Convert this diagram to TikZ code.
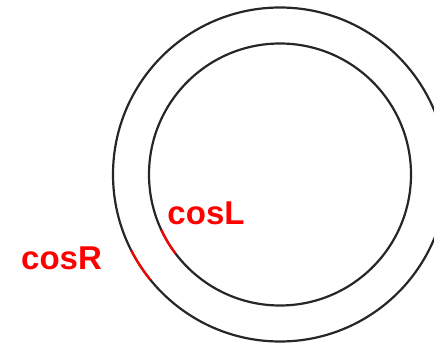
\documentclass[tikz,border=0pt]{standalone}
\usepackage{fontspec}
\setmainfont{Liberation Sans}
\usetikzlibrary{calc}

\begin{document}
\begin{tikzpicture}[x=1pt, y=1pt,
		ring/.style={line width=2.2pt, black!85},
		redarc/.style={line width=2.2pt, red},
		lbl/.style={text=red, font=\fontsize{33}{33}\selectfont\bfseries, inner sep=0pt, anchor=base}]
			
			\useasboundingbox (0,0) rectangle (434,343);
			\clip (0,0) rectangle (434,343);
			
			\coordinate (O) at (280,168.5);
			
			\draw[ring] (O) circle (167);
			\draw[ring] (O) circle (131);
			
			\draw[redarc] ($(O)+(207:167)$) arc[start angle=207, end angle=219, radius=167];
			\draw[redarc] ($(O)+(205:131)$) arc[start angle=205, end angle=217, radius=131];
			
			\node[lbl] (cosL) at (206,118) {cosL};
			\node[lbl] (cosR) at (61.5,73) {cosR};
			
		\end{tikzpicture}
\end{document}
